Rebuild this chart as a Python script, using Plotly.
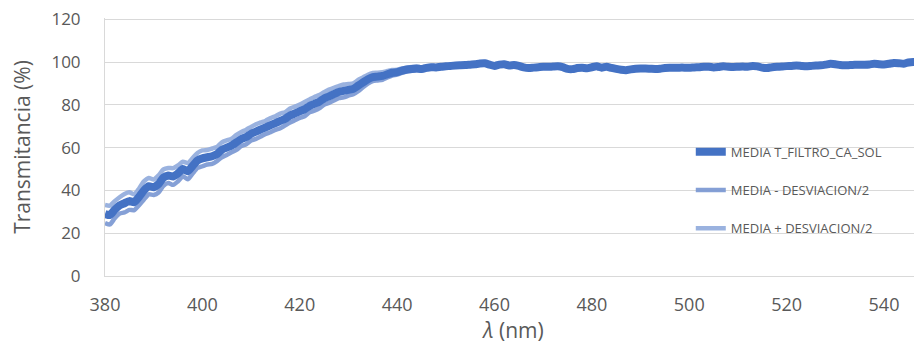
import plotly.graph_objects as go

wavelength = list(range(380, 549))

media = [
    29.0, 28.5, 31.0, 33.0, 34.0, 35.0, 34.5, 37.0, 40.0, 42.0,   # 380-389
    41.5, 43.0, 46.0, 47.0, 46.5, 48.0, 50.0, 49.0, 51.5, 54.0,   # 390-399
    55.0, 55.5, 56.0, 57.0, 59.0, 60.0, 61.0, 62.5, 64.0, 65.0,   # 400-409
    66.5, 67.5, 68.5, 69.5, 70.5, 71.5, 72.5, 73.5, 75.0, 76.0,   # 410-419
    77.0, 78.0, 79.5, 80.5, 81.5, 83.0, 84.0, 85.0, 86.0, 86.5,   # 420-429
    87.0, 87.5, 89.0, 90.5, 92.0, 93.0, 93.2, 93.5, 94.3, 95.0,   # 430-439
    95.3, 96.0, 96.5, 96.8, 97.0, 96.8, 97.3, 97.6, 97.5, 97.8,   # 440-449
    98.0, 98.2, 98.4, 98.5, 98.6, 98.8, 99.0, 99.3, 99.4, 98.8,   # 450-459
    98.2, 98.8, 99.0, 98.4, 98.6, 98.2, 97.5, 97.2, 97.4, 97.6,   # 460-469
    97.8, 97.8, 97.9, 98.0, 97.6, 96.8, 96.7, 97.2, 97.4, 97.1,   # 470-479
    97.6, 98.0, 97.4, 97.8, 97.3, 96.8, 96.4, 96.2, 96.6, 96.9,   # 480-489
    97.0, 97.0, 96.9, 96.8, 96.9, 97.2, 97.3, 97.3, 97.4, 97.4,   # 490-499
    97.3, 97.5, 97.6, 97.8, 97.8, 97.5, 97.7, 98.0, 97.8, 97.7,   # 500-509
    97.8, 97.9, 97.8, 98.2, 98.0, 97.4, 97.2, 97.6, 97.8, 97.9,   # 510-519
    98.1, 98.2, 98.4, 98.2, 98.0, 98.2, 98.4, 98.5, 98.8, 99.2,   # 520-529
    99.0, 98.6, 98.5, 98.6, 98.7, 98.8, 98.8, 98.9, 99.2, 99.0,   # 530-539
    98.9, 99.2, 99.6, 99.5, 99.2, 99.8, 100.0, 99.9, 99.8,        # 540-548
]

desviacion_media = [
    4.2, 4.4, 4.0, 3.8, 4.3, 4.1, 3.7, 3.9, 4.2, 3.8,   # 380-389
    3.6, 4.0, 3.8, 3.5, 3.9, 3.7, 3.4, 3.8, 3.6, 3.5,   # 390-399
    3.7, 3.4, 3.6, 3.3, 3.5, 3.4, 3.2, 3.5, 3.3, 3.4,   # 400-409
    3.2, 3.4, 3.3, 3.1, 3.3, 3.2, 3.4, 3.1, 3.3, 3.2,   # 410-419
    3.1, 3.3, 3.0, 3.2, 3.1, 2.9, 3.1, 3.0, 2.8, 3.0,   # 420-429
    2.7, 2.5, 2.6, 2.3, 2.1, 1.9, 1.8, 1.8, 1.5, 1.3,   # 430-439
    1.1, 1.0, 0.9, 0.9, 0.8, 0.7, 0.7, 0.6, 0.6, 0.5,   # 440-449
    0.5, 0.5, 0.4, 0.4, 0.4, 0.4, 0.4, 0.3, 0.3, 0.3,   # 450-459
] + [0.3] * 89                                           # 460-548

menos = [m - d for m, d in zip(media, desviacion_media)]
mas = [m + d for m, d in zip(media, desviacion_media)]

x_ticks = [380, 400, 420, 440, 460, 480, 500, 520, 540]
y_ticks = [0, 20, 40, 60, 80, 100, 120]

GREY = "#595959"
GRID = "#D9D9D9"

fig = go.Figure()
fig.add_trace(go.Scatter(
    x=wavelength, y=mas, mode="lines", name="MEDIA + DESVIACION/2",
    line=dict(color="rgba(143,170,220,0.9)", width=4.5, shape="spline", smoothing=0.6),
    legend="legend3", showlegend=True,
))
fig.add_trace(go.Scatter(
    x=wavelength, y=menos, mode="lines", name="MEDIA - DESVIACION/2",
    line=dict(color="rgba(120,150,210,0.9)", width=4.5, shape="spline", smoothing=0.6),
    legend="legend2", showlegend=True,
))
fig.add_trace(go.Scatter(
    x=wavelength, y=media, mode="lines", name="MEDIA T_FILTRO_CA_SOL",
    line=dict(color="#4472C4", width=8, shape="spline", smoothing=0.6),
    legend="legend", showlegend=True,
))

leg_common = dict(
    xanchor="left", yanchor="middle", bgcolor="rgba(0,0,0,0)", borderwidth=0,
    font=dict(family="Open Sans", size=13, color=GREY),
)
# The page body adds an 8 px offset, so the figure is 8 px smaller on each side.
fig.update_layout(
    width=914, height=345,
    margin=dict(l=97, r=0, t=10, b=77),
    showlegend=True,
    paper_bgcolor="white", plot_bgcolor="white",
    font=dict(family="Open Sans", color=GREY),
    legend=dict(x=0.717, y=0.481, **leg_common),
    legend2=dict(x=0.717, y=0.333, **leg_common),
    legend3=dict(x=0.717, y=0.185, **leg_common),
    xaxis=dict(
        range=[380, 547.8], tickvals=x_ticks, ticks="", automargin=False,
        showgrid=False, showline=True, linecolor=GRID, linewidth=1,
        ticklabelstandoff=12, ticklabeloverflow="allow",
        tickfont=dict(size=18, color=GREY), zeroline=False,
        title=dict(text="<i>λ</i> (nm)", font=dict(size=21, color=GREY), standoff=6),
    ),
    yaxis=dict(
        range=[0, 120.6], tickvals=y_ticks, ticks="", automargin=False,
        showgrid=True, gridcolor=GRID, gridwidth=1,
        showline=True, linecolor=GRID, linewidth=1, zeroline=False,
        ticklabelstandoff=20, ticklabeloverflow="allow",
        tickfont=dict(size=17, color=GREY),
        title=dict(text="Transmitancia (%)", font=dict(size=21, color=GREY), standoff=22),
    ),
)

fig.write_html("out.html")
